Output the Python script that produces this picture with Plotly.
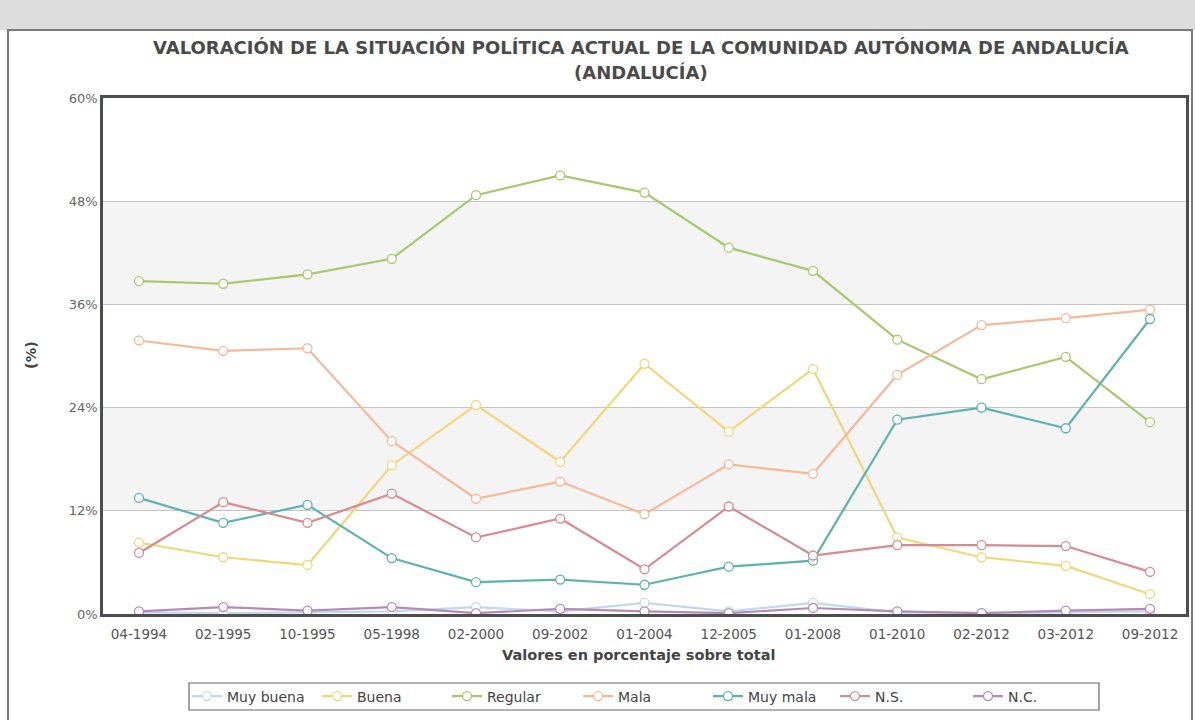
import plotly.graph_objects as go

categories = ["04-1994", "02-1995", "10-1995", "05-1998", "02-2000", "09-2002", "01-2004",
              "12-2005", "01-2008", "01-2010", "02-2012", "03-2012", "09-2012"]

muy_buena = [0.2, 0.1, 0.2, 0.3, 0.8, 0.3, 1.3, 0.3, 1.3, 0.2, 0.1, 0.2, 0.3]
buena = [8.3, 6.6, 5.7, 17.3, 24.3, 17.7, 29.1, 21.2, 28.5, 8.9, 6.6, 5.6, 2.3]
regular = [38.7, 38.4, 39.5, 41.3, 48.7, 51.0, 49.0, 42.6, 39.9, 31.9, 27.3, 29.9, 22.3]
mala = [31.8, 30.6, 30.9, 20.1, 13.4, 15.4, 11.6, 17.4, 16.3, 27.8, 33.6, 34.4, 35.4]
muy_mala = [13.5, 10.6, 12.7, 6.5, 3.7, 4.0, 3.4, 5.5, 6.2, 22.6, 24.0, 21.6, 34.3]
ns = [7.1, 13.0, 10.6, 14.0, 8.9, 11.1, 5.2, 12.5, 6.8, 8.0, 8.0, 7.9, 4.9]
nc = [0.3, 0.8, 0.4, 0.8, 0.1, 0.6, 0.3, 0.1, 0.7, 0.3, 0.1, 0.4, 0.6]

series_names = ["Muy buena", "Buena", "Regular", "Mala", "Muy mala", "N.S.", "N.C."]
series_values = [muy_buena, buena, regular, mala, muy_mala, ns, nc]
series_colors = ["#c3d7ee", "#f1d77a", "#a9c76c", "#f3b99a", "#5db3ae", "#d78a93", "#b58ab7"]

y_ticks = [0, 12, 24, 36, 48, 60]

title_line1 = "VALORACIÓN DE LA SITUACIÓN POLÍTICA ACTUAL DE LA COMUNIDAD AUTÓNOMA DE ANDALUCÍA"
title_line2 = "(ANDALUCÍA)"

W, H = 1195, 720
L, R, T, B = 103, 1186, 98, 614


def px(x):
    return (x - L) / (R - L)


def py(y):
    return (B - y) / (B - T)


fig = go.Figure()
legend_x = [187, 317, 447, 578, 708, 835, 968]
for i, (name, vals, col) in enumerate(zip(series_names, series_values, series_colors)):
    lg = "legend" if i == 0 else f"legend{i + 1}"
    fig.add_trace(go.Scatter(
        x=categories, y=vals, name=name, mode="lines+markers",
        line=dict(color=col, width=2.2),
        marker=dict(symbol="circle", size=9, color="white", line=dict(color=col, width=1.3)),
        legend=lg,
    ))
    fig.update_layout({lg: dict(
        x=px(legend_x[i]), y=py(696.5), xanchor="left", yanchor="middle",
        orientation="h", bgcolor="rgba(0,0,0,0)", borderwidth=0,
        font=dict(family="DejaVu Sans", size=14, color="#444444"),
        itemwidth=30,
    )})

shapes = []
shapes.append(dict(type="rect", xref="paper", yref="paper", x0=px(-5), x1=px(W + 5),
                   y0=py(30), y1=py(-5), fillcolor="#dddddd", line=dict(width=0), layer="below"))
shapes.append(dict(type="rect", xref="paper", yref="paper", x0=px(8), x1=px(1192),
                   y0=py(730), y1=py(30), fillcolor="rgba(0,0,0,0)",
                   line=dict(color="#7a7a7a", width=2)))
for lo, hi in [(12, 24), (36, 48)]:
    shapes.append(dict(type="rect", xref="paper", yref="y", x0=0, x1=1, y0=lo, y1=hi,
                       fillcolor="#f4f4f4", line=dict(width=0), layer="below"))
shapes.append(dict(type="rect", xref="paper", yref="paper", x0=px(189), x1=px(1099),
                   y0=py(710), y1=py(683), fillcolor="rgba(0,0,0,0)",
                   line=dict(color="#666666", width=1.2)))

title_font = dict(family="DejaVu Sans", size=18, color="#4a4a4a", weight="bold")
axis_title_font = dict(family="DejaVu Sans", size=14.5, color="#444444", weight="bold")
annotations = [
    dict(text=title_line1, xref="paper", yref="paper", x=px(641), y=py(47),
         xanchor="center", yanchor="middle", showarrow=False, font=title_font),
    dict(text=title_line2, xref="paper", yref="paper", x=px(641), y=py(73),
         xanchor="center", yanchor="middle", showarrow=False, font=title_font),
    dict(text="(%)", xref="paper", yref="paper", x=px(31), y=py(355), textangle=-90,
         xanchor="center", yanchor="middle", showarrow=False, font=axis_title_font),
    dict(text="Valores en porcentaje sobre total", xref="paper", yref="paper", x=px(638), y=py(655),
         xanchor="center", yanchor="middle", showarrow=False, font=axis_title_font),
]

fig.update_layout(
    width=W, height=H,
    margin=dict(l=L, r=W - R, t=T, b=H - B, autoexpand=False),
    paper_bgcolor="white", plot_bgcolor="white",
    shapes=shapes, annotations=annotations,
    showlegend=True,
    font=dict(family="DejaVu Sans", size=13, color="#666666"),
    xaxis=dict(type="category", range=[-0.427, 12.427], showgrid=False,
               showline=True, mirror=True, linecolor="#4d4d4d", linewidth=2.5,
               ticks="", ticklabelstandoff=6, tickfont=dict(size=13.5, color="#555555"), zeroline=False),
    yaxis=dict(range=[0, 60], tickvals=y_ticks, ticktext=[f"{v}%" for v in y_ticks],
               showgrid=True, gridcolor="#c4c4c4", gridwidth=1,
               showline=True, mirror=True, linecolor="#4d4d4d", linewidth=2.5,
               ticks="", tickfont=dict(size=13, color="#666666"), zeroline=False),
)

fig.write_html("out.html", config={"displayModeBar": False},
               post_script="document.body.style.margin='0';")
